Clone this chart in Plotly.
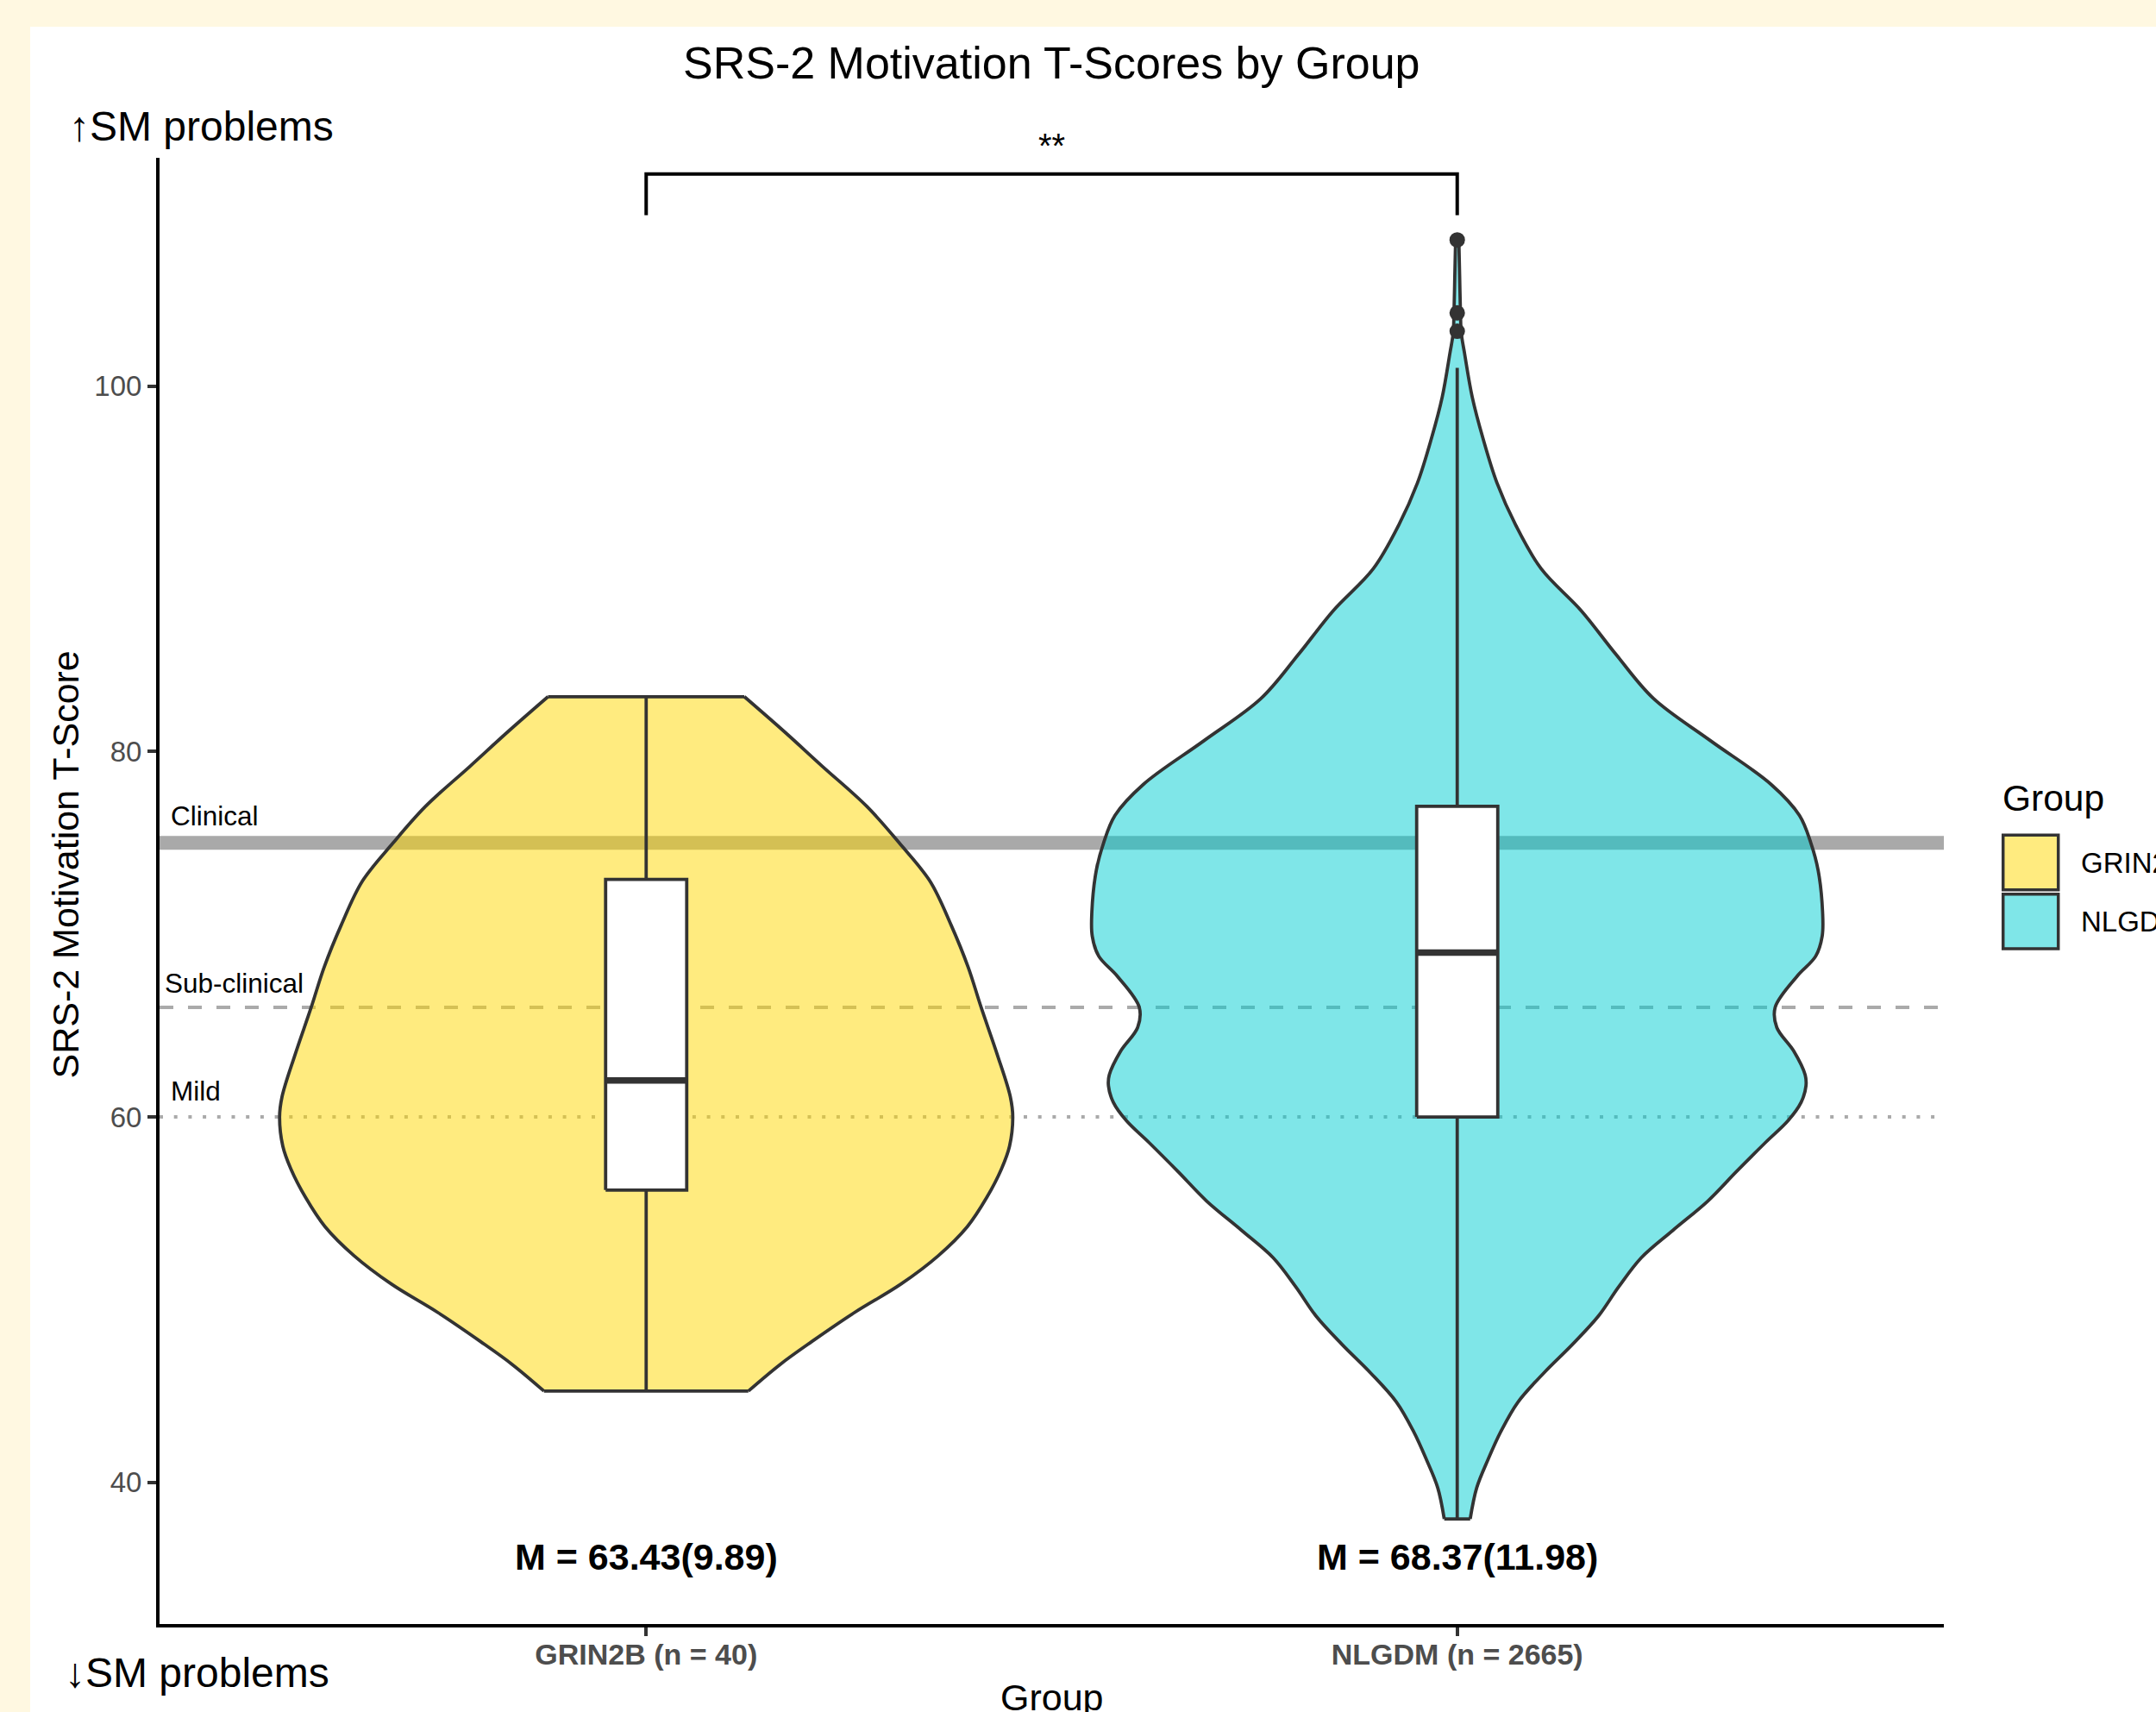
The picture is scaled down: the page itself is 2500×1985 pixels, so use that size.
import plotly.graph_objects as go

# ---------------- data ----------------
categories = ["GRIN2B", "NLGDM"]
cat_pos = [1, 2]
tick_labels = ["GRIN2B (n = 40)", "NLGDM (n = 2665)"]
fill_colors = ["rgba(255,215,0,0.5)", "rgba(0,206,209,0.5)"]

# violin profiles (score, half-width in category units)
grin_y = [45.0, 46.45, 47.7, 49.3, 50.85, 52.4, 54.0, 55.6, 57.15, 58.4, 60.0,
          61.1, 63.4, 66.0, 68.2, 70.5, 72.9, 75.0, 77.0, 79.2, 81.1, 83.0]
grin_hw = [0.126, 0.165, 0.204, 0.257, 0.314, 0.360, 0.396, 0.420, 0.438, 0.448, 0.452,
           0.449, 0.433, 0.413, 0.397, 0.376, 0.350, 0.312, 0.272, 0.217, 0.170, 0.121]

nlgdm_y = [38.0, 39.7, 41.25, 42.8, 44.4, 46.0, 47.55, 49.1, 50.7, 52.3, 53.8, 55.4,
           57.0, 58.6, 59.8, 60.8, 61.7, 62.3, 63.6, 64.9, 66.0, 67.7, 68.8, 69.9,
           71.2, 73.5, 75.0, 76.5, 78.2, 80.6, 82.9, 85.3, 87.7, 90.0, 92.4, 94.7,
           97.1, 99.4, 101.8, 102.9, 104.0, 106.0, 108.0]
nlgdm_hw = [0.016, 0.024, 0.038, 0.054, 0.075, 0.107, 0.142, 0.174, 0.199, 0.227, 0.266, 0.309,
            0.344, 0.380, 0.408, 0.424, 0.430, 0.429, 0.415, 0.394, 0.392, 0.419, 0.442, 0.450,
            0.4505, 0.445, 0.436, 0.422, 0.387, 0.312, 0.242, 0.196, 0.153, 0.1035, 0.072, 0.049,
            0.032, 0.0185, 0.009, 0.005, 0.004, 0.003, 0.002]

# box statistics
q1 = [56, 60]
medians = [62, 69]
q3 = [73, 77]
lower_whisker = [45, 38]
upper_whisker = [83, 101]
outliers_nlgdm = [108, 104, 103]

means = [63.43, 68.37]
sds = [9.89, 11.98]
mean_label_y = 35.94

thresholds = [75, 66, 60]
threshold_labels = ["Clinical", "Sub-clinical", "Mild"]

# ---------------- style ----------------
FONT = "Liberation Sans, Arial, Helvetica, sans-serif"
DARK = "#333333"
W, H = 2500, 1985
L, R, T, B = 185, 246, 183, 102
PW, PH = W - L - R, H - T - B
BOX_HALF = 0.05
OUTLINE = 3.8


def px2paper_x(px):
    return (px - L) / PW


def px2paper_y(py):
    return (H - B - py) / PH


fig = go.Figure()

# threshold lines (drawn beneath the violins)
line_styles = [
    dict(color="#A9A9A9", width=16, dash="solid"),
    dict(color="#AAAAAA", width=4, dash="16px,17px"),
    dict(color="#AAAAAA", width=4, dash="4px,12.7px"),
]
for thr, st in zip(thresholds, line_styles):
    fig.add_trace(go.Scatter(x=[0.4, 2.6], y=[thr, thr], mode="lines",
                             line=st, hoverinfo="skip", showlegend=False))

# violins: smooth left and right sides, the area between them filled,
# flat edges at the trimmed ends
profiles = [(grin_y, grin_hw), (nlgdm_y, nlgdm_hw)]
for pos, (ys, hws), col, name in zip(cat_pos, profiles, fill_colors, categories):
    spline = dict(color=DARK, width=OUTLINE, shape="spline", smoothing=1.0)
    fig.add_trace(go.Scatter(x=[pos - h for h in hws], y=ys, mode="lines", line=spline,
                             name=name, showlegend=False, hoverinfo="skip"))
    fig.add_trace(go.Scatter(x=[pos + h for h in hws], y=ys, mode="lines", line=spline,
                             fill="tonextx", fillcolor=col,
                             name=name, showlegend=False, hoverinfo="skip"))
    fig.add_trace(go.Scatter(x=[pos - hws[0], pos + hws[0], None, pos - hws[-1], pos + hws[-1]],
                             y=[ys[0], ys[0], None, ys[-1], ys[-1]], mode="lines",
                             line=dict(color=DARK, width=OUTLINE),
                             showlegend=False, hoverinfo="skip"))

# boxplots (whiskers, white box, thick median)
for i, pos in enumerate(cat_pos):
    fig.add_trace(go.Scatter(x=[pos, pos, None, pos, pos],
                             y=[lower_whisker[i], q1[i], None, q3[i], upper_whisker[i]],
                             mode="lines", line=dict(color=DARK, width=OUTLINE),
                             showlegend=False, hoverinfo="skip"))
    fig.add_trace(go.Scatter(x=[pos - BOX_HALF, pos + BOX_HALF, pos + BOX_HALF, pos - BOX_HALF, pos - BOX_HALF],
                             y=[q1[i], q1[i], q3[i], q3[i], q1[i]],
                             mode="lines", fill="toself", fillcolor="white",
                             line=dict(color=DARK, width=OUTLINE),
                             showlegend=False, hoverinfo="skip"))
    fig.add_trace(go.Scatter(x=[pos - BOX_HALF, pos + BOX_HALF], y=[medians[i], medians[i]],
                             mode="lines", line=dict(color=DARK, width=7.5),
                             showlegend=False, hoverinfo="skip"))

# outliers
fig.add_trace(go.Scatter(x=[cat_pos[1]] * len(outliers_nlgdm), y=outliers_nlgdm, mode="markers",
                         marker=dict(color=DARK, size=18), showlegend=False, hoverinfo="skip"))

shapes = []
# page: cream border with white panel
shapes.append(dict(type="rect", xref="paper", yref="paper",
                   x0=px2paper_x(35), x1=px2paper_x(2520), y0=px2paper_y(2010), y1=px2paper_y(31),
                   fillcolor="white", line=dict(width=0), layer="below"))
# significance bracket
shapes.append(dict(type="path", xref="x", yref="y",
                   path=f"M {cat_pos[0]},109.35 L {cat_pos[0]},111.6 L {cat_pos[1]},111.6 L {cat_pos[1]},109.35",
                   line=dict(color="black", width=4)))
# manual legend keys
key_y = [(968.3, 1031.7), (1036.7, 1100.0)]
for (y_top, y_bot), col in zip(key_y, fill_colors):
    shapes.append(dict(type="rect", xref="paper", yref="paper",
                       x0=px2paper_x(2322.7), x1=px2paper_x(2386.7),
                       y0=px2paper_y(y_bot), y1=px2paper_y(y_top),
                       fillcolor=col, line=dict(color=DARK, width=3.5)))

annotations = []
# title
annotations.append(dict(text="SRS-2 Motivation T-Scores by Group", xref="paper", yref="paper",
                        x=0.5, y=px2paper_y(72.8), xanchor="center", yanchor="middle",
                        showarrow=False, font=dict(size=52, color="black", family=FONT)))
annotations.append(dict(text="↑SM problems", xref="paper", yref="paper",
                        x=px2paper_x(78), y=px2paper_y(146), xanchor="left", yanchor="middle",
                        showarrow=False, font=dict(size=48, color="black", family=FONT)))
annotations.append(dict(text="↓SM problems", xref="paper", yref="paper",
                        x=px2paper_x(73), y=px2paper_y(1940), xanchor="left", yanchor="middle",
                        showarrow=False, font=dict(size=48, color="black", family=FONT)))
# axis titles
annotations.append(dict(text="SRS-2 Motivation T-Score", xref="paper", yref="paper",
                        x=px2paper_x(75.5), y=px2paper_y(1003), xanchor="center", yanchor="middle",
                        textangle=-90, showarrow=False, font=dict(size=43, color="black", family=FONT)))
annotations.append(dict(text="Group", xref="paper", yref="paper",
                        x=0.5, y=px2paper_y(1968), xanchor="center", yanchor="middle",
                        showarrow=False, font=dict(size=43, color="black", family=FONT)))
# threshold labels
label_x = [0.4124, 0.4053, 0.4124]
label_y = [76.49, 67.34, 61.44]
for t, lx, ly in zip(threshold_labels, label_x, label_y):
    annotations.append(dict(text=t, xref="x", yref="y", x=lx, y=ly, xanchor="left",
                            yanchor="middle", showarrow=False, borderpad=0,
                            font=dict(size=31.5, color="black", family=FONT)))
# mean labels
for pos, m, s in zip(cat_pos, means, sds):
    annotations.append(dict(text=f"<b>M = {m:.2f}({s:.2f})</b>", xref="x", yref="y",
                            x=pos, y=mean_label_y, xanchor="center", yanchor="middle",
                            showarrow=False, font=dict(size=43, color="black", family=FONT)))
# significance stars (above the panel, so placed in paper units)
annotations.append(dict(text="**", xref="x", yref="paper", x=(cat_pos[0] + cat_pos[1]) / 2,
                        y=px2paper_y(169), xanchor="center", yanchor="middle", showarrow=False,
                        font=dict(size=40, color="black", family=FONT)))
# legend text
annotations.append(dict(text="Group", xref="paper", yref="paper", x=px2paper_x(2321),
                        y=px2paper_y(925.5), xanchor="left", yanchor="middle", showarrow=False,
                        borderpad=0, font=dict(size=42.5, color="black", family=FONT)))
for name, (y_top, y_bot) in zip(categories, key_y):
    annotations.append(dict(text=name, xref="paper", yref="paper", x=px2paper_x(2411.7),
                            y=px2paper_y((y_top + y_bot) / 2), xanchor="left", yanchor="middle",
                            showarrow=False, borderpad=0,
                            font=dict(size=33, color="black", family=FONT)))

fig.update_layout(
    width=W, height=H,
    margin=dict(l=L, r=R, t=T, b=B, pad=0),
    paper_bgcolor="#FFF8E1",
    plot_bgcolor="white",
    showlegend=False,
    shapes=shapes,
    annotations=annotations,
    font=dict(family=FONT),
)
fig.update_xaxes(range=[0.4, 2.6], tickvals=cat_pos,
                 ticktext=[f"<b>{t}</b>" for t in tick_labels],
                 showgrid=False, zeroline=False, showline=True, linecolor="black", linewidth=4,
                 ticks="outside", ticklen=10, tickwidth=4, tickcolor=DARK, ticklabelstandoff=-8,
                 tickfont=dict(size=34, color="#4D4D4D", family=FONT))
fig.update_yaxes(range=[32.25, 112.49], tickvals=[40, 60, 80, 100],
                 showgrid=False, zeroline=False, showline=True, linecolor="black", linewidth=4,
                 ticks="outside", ticklen=10, tickwidth=4, tickcolor=DARK,
                 tickfont=dict(size=33, color="#4D4D4D", family=FONT))

fig.write_html("out.html")
